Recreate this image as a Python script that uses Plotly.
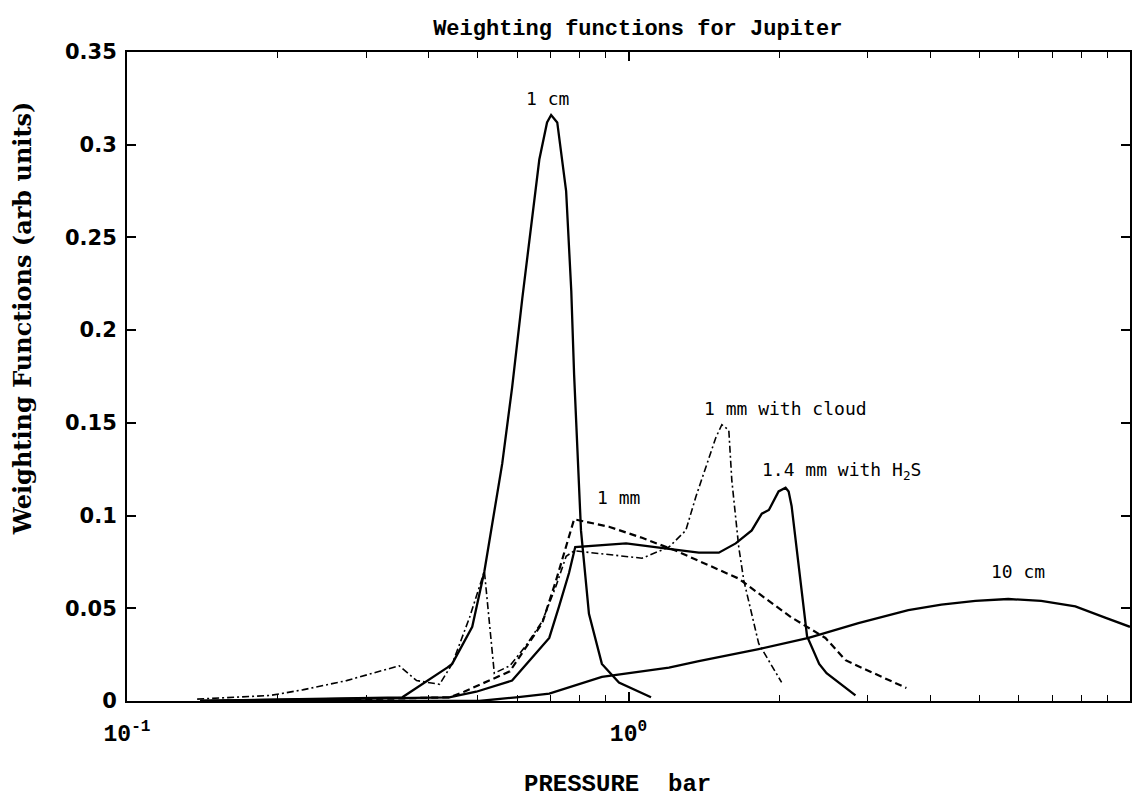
import math
import plotly.graph_objects as go

# ---- data (pressure in bar, weighting in arb units) ----
cm1_p = [0.14, 0.354, 0.435, 0.445, 0.488, 0.511, 0.516, 0.560, 0.586, 0.614, 0.640, 0.664, 0.688,
         0.701, 0.721, 0.751, 0.769, 0.779, 0.804, 0.834, 0.885, 0.957, 1.109]
cm1_w = [0.0, 0.002, 0.018, 0.020, 0.040, 0.065, 0.070, 0.128, 0.169, 0.217, 0.257, 0.292, 0.312,
         0.316, 0.312, 0.275, 0.221, 0.176, 0.092, 0.047, 0.020, 0.010, 0.002]

mm1_p = [0.14, 0.30, 0.44, 0.47, 0.58, 0.625, 0.673, 0.717, 0.751, 0.779, 0.914, 1.064, 1.244,
         1.445, 1.659, 1.818, 2.115, 2.470, 2.709, 2.969, 3.194, 3.582]
mm1_w = [0.0, 0.001, 0.002, 0.005, 0.016, 0.029, 0.042, 0.065, 0.083, 0.098, 0.094, 0.088, 0.081,
         0.073, 0.066, 0.058, 0.045, 0.034, 0.022, 0.017, 0.013, 0.007]

cloud_p = [0.138, 0.193, 0.224, 0.274, 0.349, 0.378, 0.420, 0.445, 0.482, 0.516, 0.540, 0.58, 0.625,
           0.673, 0.717, 0.751, 0.779, 0.914, 1.064, 1.204, 1.301, 1.362, 1.427, 1.493, 1.535, 1.585,
           1.607, 1.659, 1.698, 1.818, 2.020]
cloud_w = [0.001, 0.003, 0.006, 0.011, 0.019, 0.011, 0.009, 0.020, 0.045, 0.070, 0.015, 0.019, 0.030,
           0.043, 0.062, 0.078, 0.081, 0.079, 0.077, 0.083, 0.092, 0.110, 0.126, 0.142, 0.149, 0.146,
           0.119, 0.083, 0.065, 0.031, 0.010]

h2s_p = [0.14, 0.439, 0.497, 0.586, 0.655, 0.695, 0.727, 0.761, 0.783, 0.885, 0.989, 1.204, 1.381,
         1.514, 1.636, 1.761, 1.844, 1.905, 1.992, 2.057, 2.086, 2.115, 2.184, 2.27, 2.40, 2.483, 2.835]
h2s_w = [0.0, 0.002, 0.005, 0.011, 0.026, 0.034, 0.051, 0.069, 0.083, 0.084, 0.085, 0.082, 0.080,
         0.080, 0.085, 0.092, 0.101, 0.103, 0.113, 0.115, 0.113, 0.105, 0.074, 0.035, 0.020, 0.015, 0.003]

cm10_p = [0.14, 0.504, 0.597, 0.695, 0.885, 1.204, 1.381, 1.818, 2.286, 2.874, 3.614, 4.206, 4.918,
          5.718, 6.650, 7.780, 8.920, 10.0]
cm10_w = [0.0, 0.0, 0.002, 0.004, 0.013, 0.018, 0.0215, 0.028, 0.034, 0.042, 0.049, 0.052, 0.054,
          0.055, 0.054, 0.051, 0.045, 0.040]

y_ticks = [0, 0.05, 0.1, 0.15, 0.2, 0.25, 0.3, 0.35]
y_tick_text = ["0", "0.05", "0.1", "0.15", "0.2", "0.25", "0.3", "0.35"]
x_ticks = [0.1, 1, 10]
x_tick_text = ["10<sup>-1</sup>", "10<sup>0</sup>", "10<sup>1</sup>"]

labels = [
    ("1 cm", 0.69, 0.325),
    ("1 mm with cloud", 2.06, 0.158),
    ("1.4 mm with H<sub>2</sub>S", 2.66, 0.124),
    ("1 mm", 0.957, 0.110),
    ("10 cm", 5.98, 0.070),
]

fig = go.Figure()
fig.add_trace(go.Scatter(x=cm1_p, y=cm1_w, mode="lines", line=dict(color="black", width=2.3)))
fig.add_trace(go.Scatter(x=mm1_p, y=mm1_w, mode="lines", line=dict(color="black", width=2.2, dash="7px,4px")))
fig.add_trace(go.Scatter(x=cloud_p, y=cloud_w, mode="lines",
                         line=dict(color="black", width=1.6, dash="7px,3px,2px,3px")))
fig.add_trace(go.Scatter(x=h2s_p, y=h2s_w, mode="lines", line=dict(color="black", width=2.3)))
fig.add_trace(go.Scatter(x=cm10_p, y=cm10_w, mode="lines", line=dict(color="black", width=2.3)))

for txt, px, py in labels:
    fig.add_annotation(x=math.log10(px), y=py, text=txt, showarrow=False, xref="x", yref="y",
                       xanchor="center", yanchor="middle",
                       font=dict(family="DejaVu Sans Mono", size=18, color="black"))

fig.add_annotation(text="Weighting Functions (arb units)", xref="paper", yref="paper",
                   x=-0.1045, y=0.59, textangle=-90, showarrow=False,
                   xanchor="center", yanchor="middle",
                   font=dict(family="DejaVu Serif", size=24, color="black", weight="bold"))
fig.add_annotation(text="PRESSURE  bar", xref="paper", yref="paper", x=0.4886, y=-0.1294,
                   showarrow=False, xanchor="center", yanchor="middle",
                   font=dict(family="Liberation Mono", size=24, color="black", weight="bold"))

fig.update_layout(
    width=1143, height=798,
    margin=dict(l=127, r=11, t=52, b=97, pad=0),
    paper_bgcolor="white", plot_bgcolor="white",
    showlegend=False,
    title=dict(text="Weighting functions for Jupiter", x=0.558, xref="container", xanchor="center",
               y=1 - 27 / 798, yref="container", yanchor="middle",
               font=dict(family="Liberation Mono", size=22, color="black", weight="bold")),
    xaxis=dict(type="log", range=[-1, 1], showgrid=False, zeroline=False,
               showline=True, linecolor="black", linewidth=2, mirror="ticks",
               ticks="inside", ticklen=9, tickwidth=1.5, tickcolor="black",
               tickvals=x_ticks, ticktext=x_tick_text, ticklabelstandoff=10,
               tickfont=dict(family="Liberation Mono", size=23, color="black", weight="bold"),
               minor=dict(ticks="inside", ticklen=6, tickwidth=1.2, tickcolor="black",
                          dtick="D1", showgrid=False)),
    yaxis=dict(range=[0, 0.35], showgrid=False, zeroline=False,
               showline=True, linecolor="black", linewidth=2, mirror="ticks",
               ticks="inside", ticklen=9, tickwidth=1.5, tickcolor="black",
               tickvals=y_ticks, ticktext=y_tick_text, ticklabelstandoff=4,
               tickfont=dict(family="DejaVu Sans", size=21, color="black", weight="bold")),
)

fig.write_html("out.html")
